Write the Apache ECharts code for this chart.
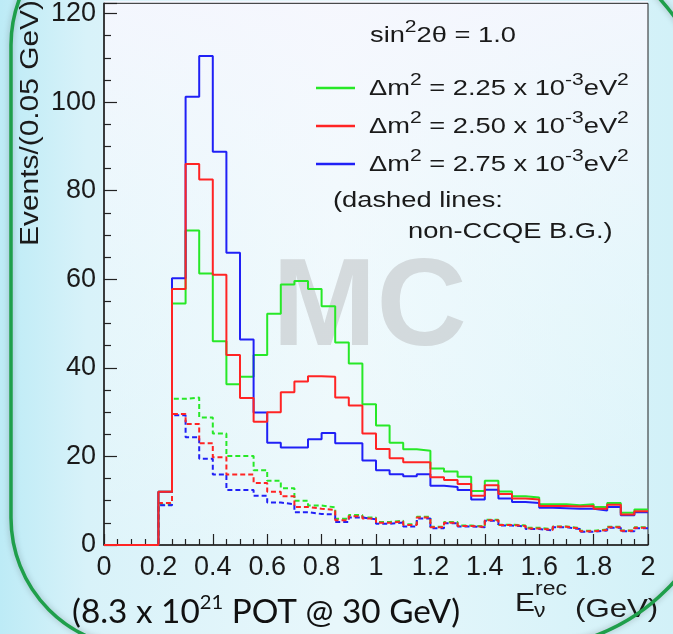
<!DOCTYPE html>
<html>
<head>
<meta charset="utf-8">
<script src="https://cdn.jsdelivr.net/npm/echarts@6/dist/echarts.min.js"></script>
<style>
  html, body { margin: 0; padding: 0; background: #e4f5fa; }
  #chart { width: 673px; height: 634px; }
</style>
</head>
<body>
<div id="chart"></div>
<script>
// Reconstructed neutrino energy spectra, 0.05 GeV bins from 0 to 2 GeV
const binWidth = 0.05;
const energyStart = 0;

// CCQE + background, solid histograms
const solid225 = [0,0,0,0,12,54.5,71,61.3,46,36.3,38,42.9,52.2,58.8,59.6,57.8,53.9,45.7,41,31.8,27,23.1,21.6,21.3,17.3,16.6,15.4,12.2,14.5,12.1,11.0,10.7,9.2,9.2,9.0,9.2,8.6,9.5,7.3,8.0];
const solid250 = [0,0,0,0,12,57.8,86,82.5,61,42.9,33.2,27.8,30,34.5,36.9,38.1,38,33.3,31.5,25.2,21.7,19.6,18.7,18.7,15.3,14.7,13.8,11.1,13.5,11.5,10.5,10.3,8.8,8.8,8.7,8.8,8.2,9.1,6.9,7.6];
const solid275 = [0,0,0,0,12,60.2,101.2,110.4,88.8,66,46.4,29.9,23.1,22,22,23.9,25.3,23,23,19.1,16.9,16,15.5,16,13.4,13.1,12.4,10.3,12.5,10.5,9.7,9.5,8.4,8.3,8.2,8.2,7.8,8.6,6.7,7.4];

// non-CCQE background, dashed histograms
const bg225 = [0,0,0,0,9.1,33,33.3,28.8,25.2,20.1,20.1,16.9,14.5,12.8,10.0,8.9,8.5,5.9,6.8,6.2,5.2,5.5,4.7,6.4,4.1,5.2,4.4,4.2,5.7,4.6,4.4,3.9,3.6,4.2,3.8,3.2,3.5,4.1,3.3,4.0];
const bg250 = [0,0,0,0,9.5,29.6,27.3,23.0,19.8,15.9,15.9,14.0,12.0,11.0,8.6,8.2,7.9,5.6,6.5,6.0,5.0,5.3,4.5,6.2,4.0,5.0,4.3,4.1,5.6,4.5,4.3,3.7,3.4,4.1,3.7,3.1,3.4,4.0,3.2,3.9];
const bg275 = [0,0,0,0,9.0,29.3,24.3,19.5,15.9,12.4,12.4,11.1,9.6,9.2,7.4,7.0,6.9,5.2,6.2,5.8,4.8,5.1,4.2,6.0,3.8,4.9,4.2,4.0,5.5,4.4,4.2,3.6,3.3,4.0,3.6,3.0,3.3,3.9,3.1,3.8];

// Axis ticks
const xTicks = [0, 0.2, 0.4, 0.6, 0.8, 1, 1.2, 1.4, 1.6, 1.8, 2];
const yTicks = [0, 20, 40, 60, 80, 100, 120];

// Legend entries
const massLabels = ['2.25', '2.50', '2.75'];
const lineColors = ['#27e827', '#ff2424', '#2020f6'];

// Turn per-bin contents into step points on the bin edges
function histPoints(values) {
  const pts = values.map((v, i) => [+(energyStart + i * binWidth).toFixed(2), v]);
  pts.push([+(energyStart + values.length * binWidth).toFixed(2), values[values.length - 1]]);
  return pts;
}

function histSeries(name, values, color, dashed) {
  return {
    name: name,
    type: 'line',
    step: 'end',
    showSymbol: false,
    animation: false,
    silent: true,
    data: histPoints(values),
    lineStyle: { color: color, width: 2, type: dashed ? [5, 3] : 'solid' }
  };
}

const SANS = 'Liberation Sans, Arial, Helvetica, sans-serif';
const LEG = 1.24; // horizontal stretch of the annotation text

const richMain = { fontFamily: SANS, fontSize: 22, lineHeight: 34, fill: '#1a1a1a' };
const richSup = { fontFamily: SANS, fontSize: 17, lineHeight: 13, verticalAlign: 'top', fill: '#1a1a1a' };

const legendRows = massLabels.map((m, i) => {
  const y = 88 + i * 38;
  return [
    { type: 'line', z: 5, shape: { x1: 316, y1: y, x2: 355, y2: y },
      style: { stroke: lineColors[i], lineWidth: 2.5 } },
    { type: 'text', z: 5, x: 369, y: y + 1, scaleX: LEG,
      style: { text: '{m|Δm}{s|2}{m| = ' + m + ' x 10}{s|-3}{m|eV}{s|2}',
        rich: { m: richMain, s: richSup }, align: 'left', verticalAlign: 'middle' } }
  ];
}).flat();

const chart = echarts.init(document.getElementById('chart'), null, { renderer: 'canvas' });

chart.setOption({
  animation: false,
  backgroundColor: {
    type: 'linear', x: 0, y: 0, x2: 1, y2: 0,
    colorStops: [
      { offset: 0, color: '#bdebf6' },
      { offset: 0.13, color: '#d8f2f9' },
      { offset: 0.5, color: '#e8f7fb' },
      { offset: 1, color: '#d2f1f8' }
    ]
  },
  grid: {
    left: 104, right: 25, top: 1, bottom: 89,
    show: true, borderColor: '#222', borderWidth: 1, backgroundColor: 'transparent'
  },
  xAxis: {
    type: 'value', min: xTicks[0], max: xTicks[xTicks.length - 1],
    interval: xTicks[1] - xTicks[0],
    axisLine: { show: true, onZero: false, lineStyle: { color: '#222', width: 1.5 } },
    axisTick: { show: true, inside: true, length: 11, lineStyle: { color: '#222', width: 1.2 } },
    minorTick: { show: true, splitNumber: 4, length: 6, lineStyle: { color: '#222', width: 1.2 } },
    splitLine: { show: false },
    axisLabel: {
      margin: 9, fontSize: 27, fontFamily: SANS, color: '#1a1a1a',
      formatter: v => String(+v.toFixed(1))
    }
  },
  yAxis: {
    type: 'value', min: yTicks[0], max: 122.3, interval: yTicks[1] - yTicks[0],
    axisLine: { show: true, onZero: false, lineStyle: { color: '#222', width: 1.5 } },
    axisTick: { show: true, inside: true, length: 13, lineStyle: { color: '#222', width: 1.2 } },
    minorTick: { show: true, splitNumber: 4, length: 7, lineStyle: { color: '#222', width: 1.2 } },
    splitLine: { show: false },
    axisLabel: {
      margin: 8, fontSize: 27, fontFamily: SANS, color: '#1a1a1a', showMaxLabel: false,
      formatter: v => (yTicks.indexOf(v) >= 0 ? String(v) : '')
    }
  },
  series: [
    histSeries('bg 2.25', bg225, lineColors[0], true),
    histSeries('bg 2.75', bg275, lineColors[2], true),
    histSeries('bg 2.50', bg250, lineColors[1], true),
    histSeries('2.25', solid225, lineColors[0], false),
    histSeries('2.75', solid275, lineColors[2], false),
    histSeries('2.50', solid250, lineColors[1], false)
  ],
  graphic: [
    // plot area wash
    { type: 'rect', z: -1, silent: true,
      shape: { x: 104, y: 1, width: 544, height: 544 },
      style: { fill: { type: 'linear', x: 0, y: 0, x2: 0, y2: 1, colorStops: [
        { offset: 0, color: 'rgba(248,247,254,0.85)' },
        { offset: 0.5, color: 'rgba(250,252,255,0.45)' },
        { offset: 1, color: 'rgba(255,255,255,0.15)' } ] } } },
    // watermark
    { type: 'text', z: 1, silent: true, x: 369.5, y: 311,
      style: { text: 'MC', fontFamily: SANS, fontWeight: 'bold', fontSize: 125,
        fill: 'rgba(185,188,190,0.5)', align: 'center', verticalAlign: 'middle' } },
    // header
    { type: 'text', z: 5, x: 370, y: 36, scaleX: LEG,
      style: { text: '{m|sin}{s|2}{m|2θ = 1.0}', rich: { m: richMain, s: richSup },
        align: 'left', verticalAlign: 'middle' } },
    ...legendRows,
    { type: 'text', z: 5, x: 333, y: 201, scaleX: LEG,
      style: { text: '(dashed lines:', fontFamily: SANS, fontSize: 22, fill: '#1a1a1a',
        align: 'left', verticalAlign: 'middle' } },
    { type: 'text', z: 5, x: 408, y: 232, scaleX: LEG,
      style: { text: 'non-CCQE B.G.)', fontFamily: SANS, fontSize: 22, fill: '#1a1a1a',
        align: 'left', verticalAlign: 'middle' } },
    // y-axis title
    { type: 'text', z: 5, x: 31, y: 246, rotation: Math.PI / 2, scaleX: 1.15,
      style: { text: 'Events/(0.05 GeV)', fontFamily: SANS, fontSize: 26, fill: '#1a1a1a',
        align: 'left', verticalAlign: 'middle' } },
    // x-axis title
    { type: 'text', z: 5, x: 515, y: 604, scaleX: 1.15,
      style: { text: 'E', fontFamily: SANS, fontSize: 26, fill: '#1a1a1a', align: 'left', verticalAlign: 'middle' } },
    { type: 'text', z: 5, x: 535, y: 589, scaleX: 1.15,
      style: { text: 'rec', fontFamily: SANS, fontSize: 20, fill: '#1a1a1a', align: 'left', verticalAlign: 'middle' } },
    { type: 'text', z: 5, x: 534, y: 611, scaleX: 1.15,
      style: { text: 'ν', fontFamily: SANS, fontSize: 20, fill: '#1a1a1a', align: 'left', verticalAlign: 'middle' } },
    { type: 'text', z: 5, x: 575, y: 610, scaleX: 1.2,
      style: { text: '(GeV)', fontFamily: SANS, fontSize: 26, fill: '#1a1a1a', align: 'left', verticalAlign: 'middle' } },
    // exposure note
    { type: 'text', z: 5, x: 72, y: 612, scaleX: 1.01,
      style: { text: '{m|(8.3 x 10}{s|21}{m| POT @ 30 GeV)}',
        rich: {
          m: { fontFamily: 'Lato, Open Sans, sans-serif', fontSize: 33, lineHeight: 38, fill: '#111' },
          s: { fontFamily: 'Lato, Open Sans, sans-serif', fontSize: 20, lineHeight: 20, verticalAlign: 'top', fill: '#111' }
        },
        align: 'left', verticalAlign: 'middle' } },
    // slide frame
    { type: 'rect', z: 6, silent: true,
      shape: { x: 11, y: -85, width: 712, height: 733, r: [130, 250, 196, 130] },
      style: { fill: 'none', stroke: '#1f9f4b', lineWidth: 3.5,
        shadowBlur: 6, shadowColor: 'rgba(0,0,0,0.25)' } }
  ]
});
</script>
</body>
</html>
